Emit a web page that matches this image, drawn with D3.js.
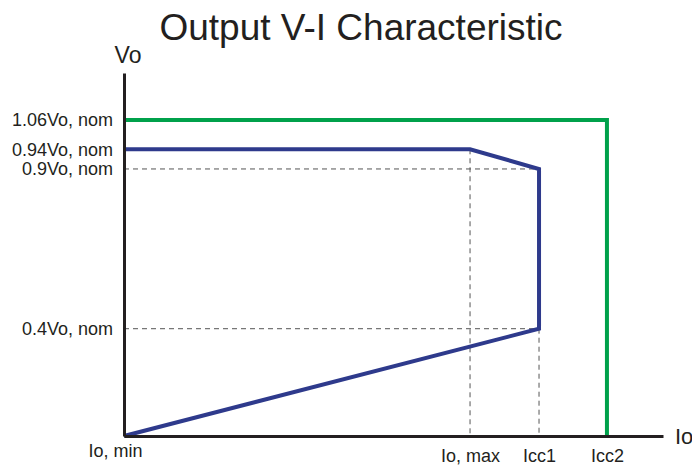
<!DOCTYPE html>
<html>
<head>
<meta charset="utf-8">
<script src="https://cdn.jsdelivr.net/npm/d3@7"></script>
<style>
  html, body { margin: 0; padding: 0; background: #fff; }
  svg text { font-family: "Liberation Sans", Arial, Helvetica, sans-serif; fill: #231f20; }
</style>
</head>
<body>
<svg id="chart" width="692" height="466"></svg>
<script>
// ---- data (schematic values) ----
const title = "Output V-I Characteristic";
const yAxisLabel = "Vo";
const xAxisLabel = "Io";

// current points (relative units along Io axis)
const currentNames = ["Io, min", "Io, max", "Icc1", "Icc2"];
const currentValues = [0, 64.2, 77, 89.6];

// voltage levels: label text and drawn (schematic) height in Vo,nom units
const voltageLabels = ["1.06Vo, nom", "0.94Vo, nom", "0.9Vo, nom", "0.4Vo, nom"];
const voltageDrawn = [1.06, 0.962, 0.896, 0.36];

// curves (Io value, Vo drawn value)
const greenIo = [0, 89.6, 89.6];
const greenVo = [1.06, 1.06, 0];
const blueIo = [0, 64.2, 77, 77, 0];
const blueVo = [0.962, 0.962, 0.896, 0.36, 0];

// guide (dashed) segments: [Io1, Vo1, Io2, Vo2]
const guideIo1 = [0, 0, 64.2, 77];
const guideVo1 = [0.896, 0.36, 0.962, 0.36];
const guideIo2 = [77, 77, 64.2, 77];
const guideVo2 = [0.896, 0.36, 0, 0];

// ---- drawing ----
const svg = d3.select("#chart");
const W = 692, H = 466;
const margin = { left: 124, right: 29, top: 73, bottom: 30 };
const x = d3.scaleLinear().domain([0, 100]).range([margin.left, W - margin.right]);
const y = d3.scaleLinear().domain([0, 1.218]).range([H - margin.bottom, margin.top]);

const ink = "#231f20";
const green = "#00a14b";
const blue = "#2e3a8c";

// title
svg.append("text")
  .attr("x", 361).attr("y", 40)
  .attr("text-anchor", "middle")
  .style("font-size", "37px")
  .text(title);

// dashed guides
const guides = d3.range(guideIo1.length).map(i => ({
  x1: guideIo1[i], y1: guideVo1[i], x2: guideIo2[i], y2: guideVo2[i]
}));
svg.append("g").selectAll("line").data(guides).join("line")
  .attr("x1", d => x(d.x1)).attr("y1", d => y(d.y1))
  .attr("x2", d => x(d.x2)).attr("y2", d => y(d.y2))
  .attr("stroke", "#555")
  .attr("stroke-width", 1)
  .attr("stroke-dasharray", "5,4");

// curves
const line = d3.line().x(d => x(d[0])).y(d => y(d[1]));
svg.append("path")
  .datum(greenIo.map((v, i) => [v, greenVo[i]]))
  .attr("d", line)
  .attr("fill", "none").attr("stroke", green).attr("stroke-width", 4)
  .attr("stroke-linejoin", "miter");
svg.append("path")
  .datum(blueIo.map((v, i) => [v, blueVo[i]]))
  .attr("d", line)
  .attr("fill", "none").attr("stroke", blue).attr("stroke-width", 4)
  .attr("stroke-linejoin", "miter");

// axes
const yAxis = d3.axisLeft(y)
  .tickValues(voltageDrawn)
  .tickFormat((d, i) => voltageLabels[i])
  .tickSize(0).tickPadding(11);
const gy = svg.append("g").attr("transform", `translate(${x(0)},0)`).call(yAxis);
gy.select(".domain").attr("stroke", ink).attr("stroke-width", 3);
gy.selectAll("text").style("font-size", "18px").attr("fill", ink)
  .style("font-family", "'Liberation Sans', Arial, sans-serif");

const xAxis = d3.axisBottom(x)
  .tickValues(currentValues)
  .tickFormat((d, i) => currentNames[i])
  .tickSize(0).tickPadding(12);
const gx = svg.append("g").attr("transform", `translate(0,${y(0)})`).call(xAxis);
gx.select(".domain").attr("stroke", ink).attr("stroke-width", 3);
gx.selectAll("text").style("font-size", "18px").attr("fill", ink)
  .style("font-family", "'Liberation Sans', Arial, sans-serif")
  .attr("dy", "0.71em")
  .attr("dx", (d, i) => i === 0 ? -9 : 0)
  .attr("y", (d, i) => i === 0 ? 8 : 13);

// axis titles
svg.append("text")
  .attr("x", x(0) + 4).attr("y", 63)
  .attr("text-anchor", "middle")
  .style("font-size", "23px")
  .text(yAxisLabel);
svg.append("text")
  .attr("x", x(100) + 12).attr("y", 444)
  .attr("text-anchor", "start")
  .style("font-size", "22px")
  .text(xAxisLabel);
</script>
</body>
</html>
